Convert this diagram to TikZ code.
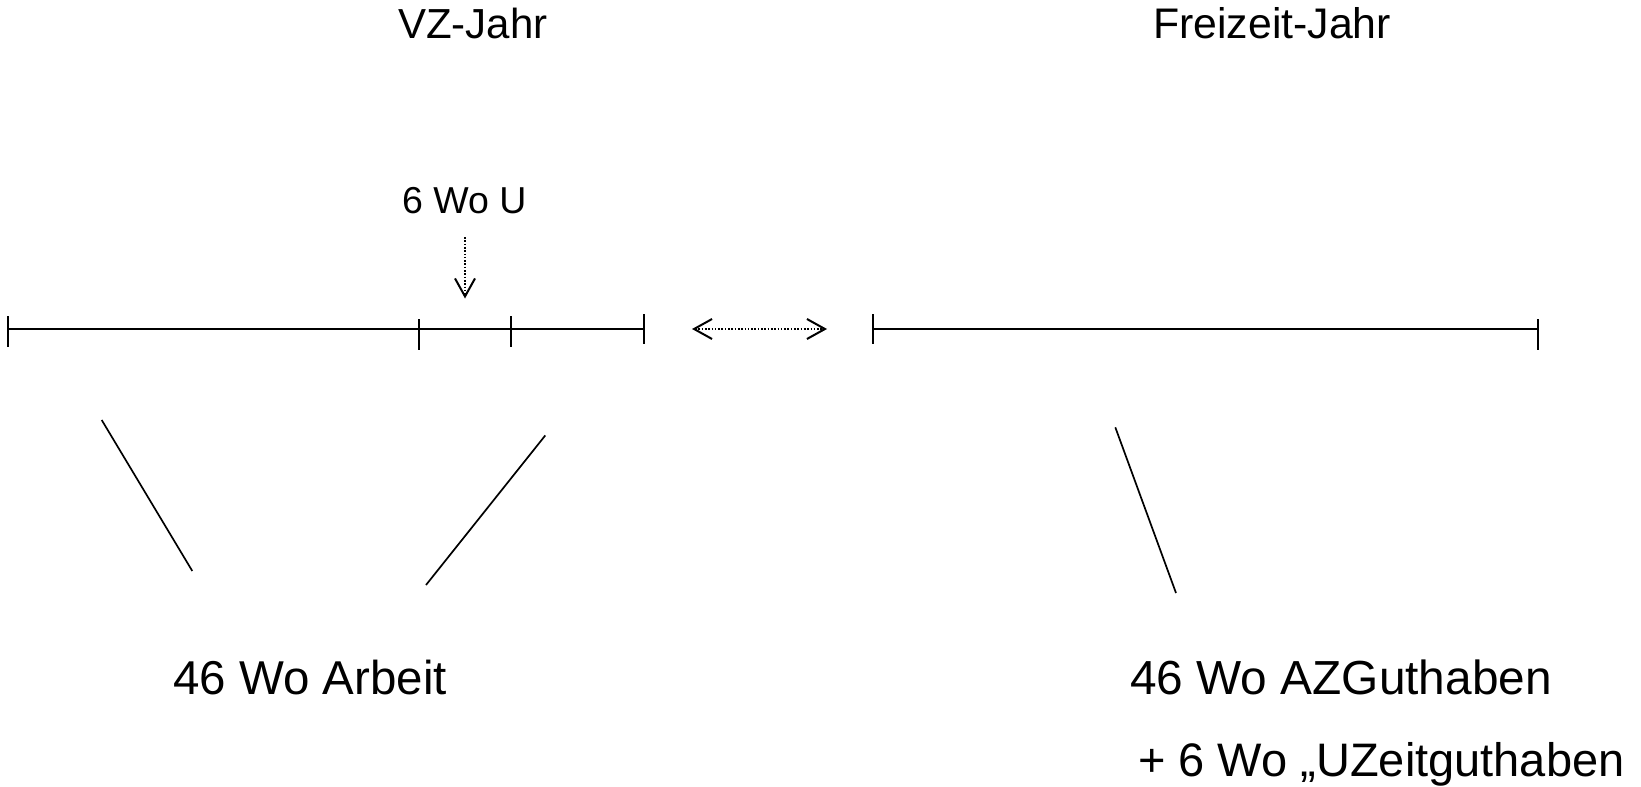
\documentclass[tikz,border=0pt]{standalone}
\usepackage{fontspec}
\setmainfont{Liberation Sans}
\usetikzlibrary{arrows.meta}
\begin{document}
\begin{tikzpicture}[x=1pt,y=-1pt,
  bar/.style={line width=2pt},
  tickline/.style={line width=2pt},
  diag/.style={line width=1.7pt},
  dotarrow/.style={line width=1.6pt, dash pattern=on 1.6pt off 1.7pt,
    arrows={Straight Barb[length=18pt,width=20pt,line width=2pt]-Straight Barb[length=18pt,width=20pt,line width=2pt]}},
  downarrow/.style={line width=1.6pt, dash pattern=on 1.6pt off 1.7pt,
    -{Straight Barb[length=18pt,width=20pt,line width=2pt]}},
  lbl/.style={inner sep=0pt, anchor=base west}
]
\useasboundingbox (0,0) rectangle (1641,787);

% labels
\node[lbl, font=\fontsize{42}{48}\selectfont] (vz) at (398,38) {VZ-Jahr};
\node[lbl, font=\fontsize{42.8}{48}\selectfont] (fz) at (1153,38) {Freizeit-Jahr};
\node[lbl, font=\fontsize{37.5}{42}\selectfont] (u) at (402,213.5) {6 Wo U};
\node[lbl, font=\fontsize{47.5}{54}\selectfont] (arb) at (173,694) {46 Wo Arbeit};
\node[lbl, font=\fontsize{47.8}{54}\selectfont] (azg) at (1130,694) {46 Wo AZGuthaben};
\node[lbl, font=\fontsize{47}{54}\selectfont] (uzg) at (1138,776) {+ 6 Wo „UZeitguthaben};

% left timeline
\coordinate (L0) at (8,329);
\coordinate (L1) at (418.6,329);
\coordinate (L2) at (510.7,329);
\coordinate (L3) at (643.7,329);
\draw[bar] (L0) -- (L3);
\draw[tickline] (8,316) -- (8,347);
\draw[tickline] (418.6,319.3) -- (418.6,350);
\draw[tickline] (510.7,316) -- (510.7,347);
\draw[tickline] (643.7,314) -- (643.7,344);

% right timeline
\coordinate (R0) at (872.9,329);
\coordinate (R1) at (1537.5,329);
\draw[bar] (R0) -- (R1);
\draw[tickline] (872.9,314) -- (872.9,344);
\draw[tickline] (1537.5,319) -- (1537.5,350);

% arrows
\coordinate (da) at (692,329);
\coordinate (db) at (827,329);
\draw[dotarrow] (da) -- (db);
\coordinate (dt) at (465,237);
\coordinate (dp) at (465,298.5);
\draw[downarrow] (dt) -- (dp);

% diagonal lines
\coordinate (a1) at (101.7,420);
\coordinate (a2) at (192.3,571);
\draw[diag] (a1) -- (a2);
\coordinate (b1) at (545.3,435.4);
\coordinate (b2) at (426,585);
\draw[diag] (b1) -- (b2);
\coordinate (c1) at (1115.3,427.3);
\coordinate (c2) at (1176,593);
\draw[diag] (c1) -- (c2);
\end{tikzpicture}
\end{document}
